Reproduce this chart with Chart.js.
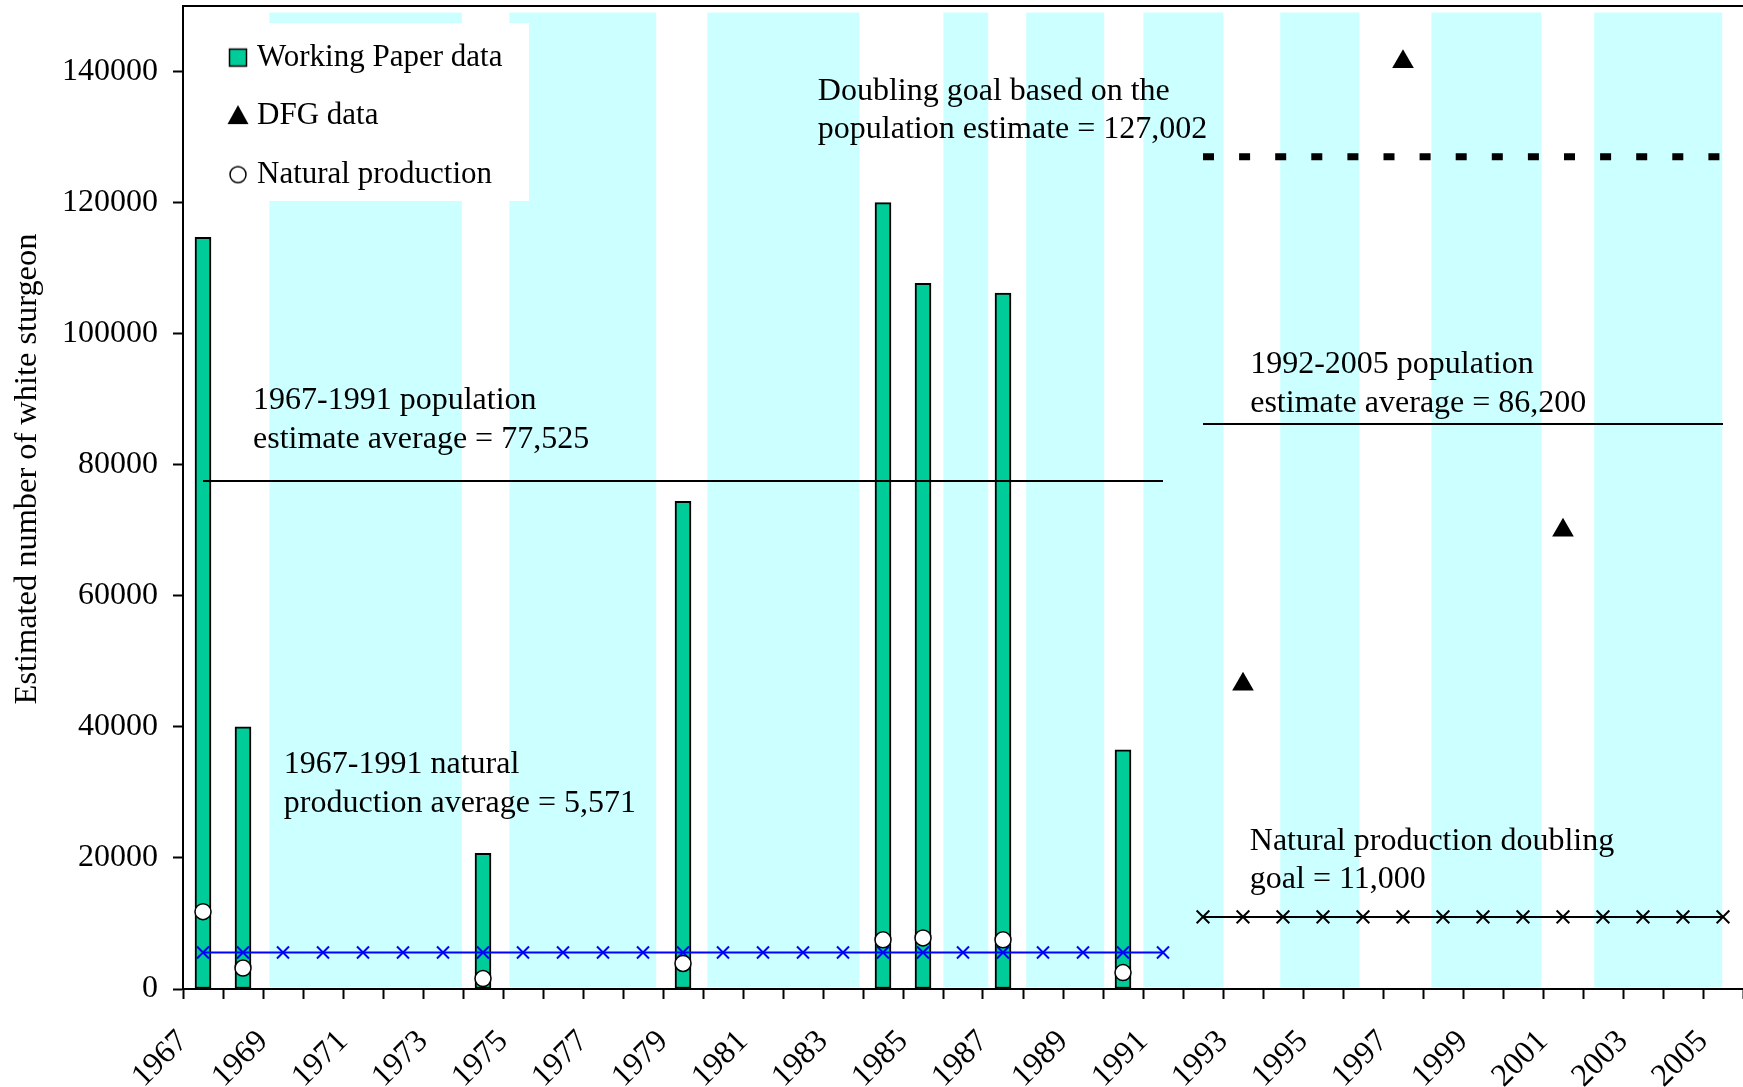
<!DOCTYPE html>
<html>
<head>
<meta charset="utf-8">
<script src="https://cdn.jsdelivr.net/npm/chart.js@4.4.1/dist/chart.umd.min.js"></script>
<style>
  html, body { margin: 0; padding: 0; background: #fff; }
</style>
</head>
<body>
<canvas id="sturgeonChart" width="1743" height="1087"></canvas>
<script>
// Working Paper estimates and natural production (same years)
const workingPaperYears = [1967, 1968, 1974, 1979, 1984, 1985, 1987, 1990];
const workingPaperValues = [114700, 40000, 20700, 74400, 120000, 107700, 106200, 36500];
const naturalProductionValues = [11800, 3200, 1600, 3900, 7500, 7800, 7500, 2500];

// DFG estimates
const dfgYears = [1993, 1997, 2001];
const dfgValues = [46500, 141500, 70000];

// averages and goals
const earlyYears = [1967, 1968, 1969, 1970, 1971, 1972, 1973, 1974, 1975, 1976, 1977, 1978, 1979,
  1980, 1981, 1982, 1983, 1984, 1985, 1986, 1987, 1988, 1989, 1990, 1991];
const lateYears = [1992, 1993, 1994, 1995, 1996, 1997, 1998, 1999, 2000, 2001, 2002, 2003, 2004, 2005];
const earlyPopulationAverage = 77525;
const latePopulationAverage = 86200;
const populationDoublingGoal = 127002;
const earlyNaturalAverage = 5571;
const naturalDoublingGoal = 11000;

// shaded periods (axis units, year centres are whole numbers)
const wetPeriods = [
  [1968.66, 1973.47], [1974.66, 1978.33], [1979.61, 1983.41], [1985.51, 1986.63],
  [1987.58, 1989.53], [1990.51, 1992.51], [1993.93, 1995.91], [1997.71, 2000.46],
  [2001.78, 2004.98]
];
const bandTop = 149000;

const yTickValues = [0, 20000, 40000, 60000, 80000, 100000, 120000, 140000];
const tickLabels = ['1967', '1969', '1971', '1973', '1975', '1977', '1979', '1981', '1983', '1985',
  '1987', '1989', '1991', '1993', '1995', '1997', '1999', '2001', '2003', '2005'];
const yTitle = 'Estimated number of white sturgeon';

const notes = [
  { lines: ['Doubling goal based on the', 'population estimate = 127,002'], x: 1982.37, y: 135660 },
  { lines: ['1967-1991 population', 'estimate average = 77,525'], x: 1968.25, y: 88460 },
  { lines: ['1992-2005 population', 'estimate average = 86,200'], x: 1993.18, y: 93950 },
  { lines: ['1967-1991 natural', 'production average = 5,571'], x: 1969.02, y: 32915 },
  { lines: ['Natural production doubling', 'goal = 11,000'], x: 1993.17, y: 21210 }
];

const FONT = "'Liberation Serif', 'Times New Roman', serif";
const FONT_SIZE = 32;
const LINE_GAP = 38.4;

Chart.defaults.font.family = FONT;
Chart.defaults.font.size = FONT_SIZE;
Chart.defaults.color = '#000';

const toPoints = (years, values) => years.map((yr, i) => ({ x: yr, y: values[i] }));
const flat = (years, value) => years.map(yr => ({ x: yr, y: value }));

// legend markers
const makeMarker = (draw) => {
  const c = document.createElement('canvas');
  c.width = 48;
  c.height = 26;
  const g = c.getContext('2d');
  g.translate(36, 13);
  draw(g);
  return c;
};
const squareMarker = makeMarker(g => {
  g.fillStyle = '#00CC99';
  g.fillRect(-8.5, -8.5, 17, 17);
  g.lineWidth = 1.5;
  g.strokeStyle = '#000';
  g.strokeRect(-8.5, -8.5, 17, 17);
});
const triangleMarker = makeMarker(g => {
  g.fillStyle = '#000';
  g.beginPath();
  g.moveTo(0, -11);
  g.lineTo(10.5, 8);
  g.lineTo(-10.5, 8);
  g.closePath();
  g.fill();
});
const circleMarker = makeMarker(g => {
  g.fillStyle = '#fff';
  g.strokeStyle = '#000';
  g.lineWidth = 1.5;
  g.beginPath();
  g.arc(0, 0, 8, 0, Math.PI * 2);
  g.fill();
  g.stroke();
});
const legendEntries = [
  { text: 'Working Paper data', marker: squareMarker, datasetIndex: 0 },
  { text: 'DFG data', marker: triangleMarker, datasetIndex: 2 },
  { text: 'Natural production', marker: circleMarker, datasetIndex: 1 }
];

const backdrop = {
  id: 'backdrop',
  beforeDraw(chart) {
    const { ctx, scales: { x, y } } = chart;
    ctx.save();
    ctx.fillStyle = '#CCFFFF';
    wetPeriods.forEach(([a, b]) => {
      const x0 = x.getPixelForValue(a);
      const x1 = x.getPixelForValue(b);
      const y0 = y.getPixelForValue(bandTop);
      ctx.fillRect(x0, y0, x1 - x0, y.getPixelForValue(0) - 2 - y0);
    });
    // white box behind the legend
    ctx.fillStyle = '#fff';
    const lx0 = x.getPixelForValue(1966.5);
    const lx1 = x.getPixelForValue(1975.15);
    const ly0 = y.getPixelForValue(147400);
    const ly1 = y.getPixelForValue(120250);
    ctx.fillRect(lx0, ly0, lx1 - lx0, ly1 - ly0);
    ctx.restore();
  },
  afterDatasetsDraw(chart) {
    const { ctx, scales: { x, y } } = chart;
    ctx.save();
    ctx.font = FONT_SIZE + 'px ' + FONT;
    ctx.fillStyle = '#000';
    ctx.textAlign = 'left';
    ctx.textBaseline = 'alphabetic';
    notes.forEach(n => {
      const px = x.getPixelForValue(n.x);
      const py = y.getPixelForValue(n.y);
      n.lines.forEach((t, i) => ctx.fillText(t, px, py + i * LINE_GAP));
    });
    ctx.restore();
  },
  afterDraw(chart) {
    const { ctx, chartArea } = chart;
    ctx.save();
    ctx.strokeStyle = '#000';
    ctx.lineWidth = 2;
    ctx.beginPath();
    ctx.moveTo(chartArea.left, chartArea.top);
    ctx.lineTo(chartArea.right, chartArea.top);
    ctx.stroke();
    ctx.font = '32.4px ' + FONT;
    ctx.fillStyle = '#000';
    ctx.translate(36, 469);
    ctx.rotate(-Math.PI / 2);
    ctx.textAlign = 'center';
    ctx.textBaseline = 'alphabetic';
    ctx.fillText(yTitle, 0, 0);
    ctx.restore();
  }
};

new Chart(document.getElementById('sturgeonChart'), {
  type: 'bar',
  data: {
    datasets: [
      {
        type: 'bar',
        label: 'Working Paper data',
        data: toPoints(workingPaperYears, workingPaperValues),
        backgroundColor: '#00CC99',
        borderColor: '#000',
        borderWidth: 2,
        borderSkipped: false,
        barThickness: 16,
        order: 5
      },
      {
        type: 'line',
        label: 'Natural production',
        data: toPoints(workingPaperYears, naturalProductionValues),
        showLine: false,
        pointStyle: 'circle',
        pointRadius: 8,
        pointBackgroundColor: '#fff',
        pointBorderColor: '#000',
        pointBorderWidth: 1.5,
        order: 1
      },
      {
        type: 'line',
        label: 'DFG data',
        data: toPoints(dfgYears, dfgValues),
        showLine: false,
        pointStyle: 'triangle',
        pointRadius: 12.5,
        pointBackgroundColor: '#000',
        pointBorderColor: '#000',
        pointBorderWidth: 0,
        order: 1
      },
      {
        type: 'line',
        label: '1967-1991 population average',
        data: flat([earlyYears[0], earlyYears[earlyYears.length - 1]], earlyPopulationAverage),
        borderColor: '#000',
        borderWidth: 2,
        pointRadius: 0,
        order: 3
      },
      {
        type: 'line',
        label: '1992-2005 population average',
        data: flat([lateYears[0], lateYears[lateYears.length - 1]], latePopulationAverage),
        borderColor: '#000',
        borderWidth: 2,
        pointRadius: 0,
        order: 3
      },
      {
        type: 'line',
        label: 'Doubling goal',
        data: flat([lateYears[0], lateYears[lateYears.length - 1]], populationDoublingGoal),
        borderColor: '#000',
        borderWidth: 7,
        borderDash: [11, 25.1],
        borderCapStyle: 'butt',
        pointRadius: 0,
        order: 3
      },
      {
        type: 'line',
        label: '1967-1991 natural production average',
        data: flat(earlyYears, earlyNaturalAverage),
        borderColor: '#0000FF',
        borderWidth: 2,
        pointStyle: 'crossRot',
        pointRadius: 8.5,
        pointBorderColor: '#0000FF',
        pointBorderWidth: 2,
        order: 2
      },
      {
        type: 'line',
        label: 'Natural production doubling goal',
        data: flat(lateYears, naturalDoublingGoal),
        borderColor: '#000',
        borderWidth: 2,
        pointStyle: 'crossRot',
        pointRadius: 9,
        pointBorderColor: '#000',
        pointBorderWidth: 2,
        order: 2
      }
    ]
  },
  options: {
    responsive: false,
    animation: false,
    devicePixelRatio: 1,
    layout: { autoPadding: false, padding: { top: 6, left: 0, right: 0, bottom: 0 } },
    plugins: {
      tooltip: { enabled: false },
      legend: {
        position: 'chartArea',
        align: 'start',
        title: { display: true, text: ' ', font: { size: 1 }, padding: { top: 6.7, bottom: 6.7 } },
        labels: {
          usePointStyle: true,
          boxWidth: 33,
          padding: 27.5,
          font: { size: 31 },
          generateLabels: () => legendEntries.map(e => ({
            text: e.text,
            pointStyle: e.marker,
            fillStyle: 'transparent',
            strokeStyle: 'transparent',
            lineWidth: 0,
            hidden: false,
            datasetIndex: e.datasetIndex
          }))
        }
      }
    },
    scales: {
      x: {
        type: 'linear',
        offset: false,
        min: 1966.5,
        max: 2005.5,
        afterBuildTicks: (scale) => {
          const ticks = [];
          for (let v = scale.min; v <= scale.max + 0.01; v += 1) ticks.push({ value: v });
          scale.ticks = ticks;
        },
        afterFit: (scale) => {
          scale.height = 98;
          scale.paddingLeft = 0;
          scale.paddingRight = 0;
        },
        grid: {
          display: true,
          offset: false,
          drawOnChartArea: false,
          drawTicks: true,
          tickLength: 10,
          tickWidth: 2,
          tickColor: '#000'
        },
        border: { display: true, color: '#000', width: 2 },
        ticks: {
          autoSkip: false,
          minRotation: 45,
          maxRotation: 45,
          padding: 24,
          font: { size: FONT_SIZE },
          callback: (value) => {
            const label = String(Math.round(value + 0.5));
            return tickLabels.includes(label) ? label : '';
          }
        }
      },
      y: {
        min: 0,
        max: 150000,
        afterBuildTicks: (scale) => {
          scale.ticks = yTickValues.map(v => ({ value: v }));
        },
        afterFit: (scale) => {
          scale.width = 183;
          scale.paddingTop = 0;
          scale.paddingBottom = 0;
        },
        grid: {
          display: true,
          drawOnChartArea: false,
          drawTicks: true,
          tickLength: 10,
          tickWidth: 2,
          tickColor: '#000'
        },
        border: { display: true, color: '#000', width: 2 },
        ticks: {
          padding: 15,
          font: { size: FONT_SIZE },
          callback: (value) => String(value)
        }
      }
    }
  },
  plugins: [backdrop]
});
</script>
</body>
</html>
